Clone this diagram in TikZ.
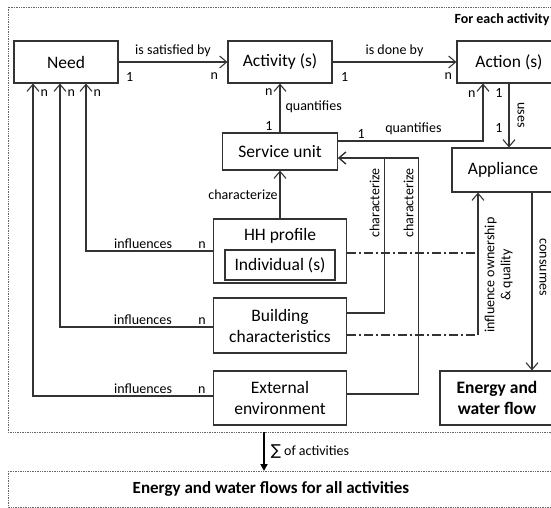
\documentclass[tikz,border=0pt]{standalone}
\usepackage{fontspec}
\setmainfont{Carlito}
\newfontfamily\dejavu{DejaVu Sans}
\usetikzlibrary{arrows.meta}
\begin{document}
\begin{tikzpicture}[x=1pt,y=-1pt]
\useasboundingbox (0,0) rectangle (551,508);
\clip (0,0) rectangle (551,508);
\tikzset{BoxStyle/.style ={draw=black!80, line width=1.1pt, rectangle, align=center, inner sep=0pt,
  minimum width=104pt, minimum height=42pt, font=\fontsize{17.5}{21}\selectfont}}
\tikzset{EdgeStyle/.style ={draw=black!80, line width=1.1pt, -{Straight Barb[length=7pt,width=12pt]}}}
\tikzset{LabelStyle/.style ={inner sep=2pt, font=\fontsize{14}{16}\selectfont}}
\tikzset{DashStyle/.style ={draw=black!80, line width=1.1pt, dash pattern=on 9pt off 3pt on 2pt off 3pt}}
\tikzset{FrameStyle/.style ={draw=black!60, line width=0.7pt, densely dotted}}
\draw[FrameStyle] (8,7) rectangle (580,432);
\draw[FrameStyle] (8,471) rectangle (580,507);
\node[anchor=base east, font=\fontsize{14}{16}\selectfont\bfseries] (ForEach) at (553,24) {For each activity};
\node[BoxStyle] (Need) at (66,62) {Need};
\node[BoxStyle] (Activity) at (280,62) {Activity (s)};
\node[BoxStyle] (Action) at (509,62) {Action (s)};
\node[BoxStyle, minimum width=115pt, minimum height=37pt] (Service) at (280,151.5) {Service unit};
\node[BoxStyle, minimum width=102pt, minimum height=44pt] (Appliance) at (503,170) {Appliance};
\node[BoxStyle, minimum width=133pt, minimum height=64pt] (HH) at (280,251) {};
\node[font=\fontsize{17.5}{21}\selectfont] (HHText) at (280,236) {HH profile};
\node[BoxStyle, minimum width=110pt, minimum height=30pt] (Individual) at (280,265) {Individual (s)};
\node[BoxStyle, minimum width=133pt, minimum height=55pt] (Building) at (280,325.5) {Building\\characteristics};
\node[BoxStyle, minimum width=133pt, minimum height=54pt] (External) at (280,398) {External\\environment};
\node[BoxStyle, minimum width=114pt, minimum height=54pt, font=\fontsize{17.5}{21}\selectfont\bfseries] (Energy) at (497,398) {Energy and\\water flow};
\node[font=\fontsize{17}{20}\selectfont\bfseries] (AllFlows) at (271,489) {Energy and water flows for all activities};
\coordinate (OwnBot) at (478,335);
\coordinate (SumTop) at (264,432);
\coordinate (SumBot) at (264,471);
\draw[EdgeStyle] (Need) -- node[LabelStyle, above=3pt]{is satisfied by} node[LabelStyle, pos=0, below right, xshift=5pt, yshift=-8pt]{1} node[LabelStyle, pos=1, below left, xshift=-7pt, yshift=-8pt]{n} (Activity);
\draw[EdgeStyle] (Activity) -- node[LabelStyle, above=3pt]{is done by} node[LabelStyle, pos=0, below right, xshift=6pt, yshift=-8pt]{1} node[LabelStyle, pos=1, below left, xshift=-2pt, yshift=-8pt]{n} (Action);
\draw[EdgeStyle] (Service) -- node[LabelStyle, pos=0.52, right=3pt]{quantifies} node[LabelStyle, pos=0.14, left=5pt]{1} node[LabelStyle, pos=0.82, left=5pt]{n} (Activity);
\draw[EdgeStyle] ([yshift=10.5pt]Service.east) -| node[LabelStyle, pos=0.08, above]{1} node[LabelStyle, pos=0.26, above=4pt]{quantifies} node[LabelStyle, pos=0.91, left=5pt]{n} ([xshift=-26pt]Action.south);
\draw[EdgeStyle] (Action.south) -- node[LabelStyle, pos=0.15, left=4pt]{1} node[LabelStyle, pos=0.69, left=4pt]{1} node[LabelStyle, pos=0.49, rotate=-90, anchor=south, inner ysep=8pt]{uses} (Action.south |- Appliance.north);
\draw[EdgeStyle] (HH) -- node[LabelStyle, left]{characterize} (Service);
\draw[EdgeStyle] ([yshift=12.5pt]Building.east) -| node[LabelStyle, pos=0.855, rotate=90, anchor=south, inner ysep=4pt]{characterize} ([xshift=46pt,yshift=-6.5pt]Service.east) -- ([yshift=-6.5pt]Service.east);
\draw[EdgeStyle] ([yshift=4pt]External.east) -| node[LabelStyle, pos=0.905, rotate=90, anchor=south, inner ysep=4pt]{characterize} ([xshift=80pt,yshift=-6.5pt]Service.east) -- ([yshift=-6.5pt]Service.east);
\draw[EdgeStyle] (HH.west) -| node[LabelStyle, pos=0.275, above]{influences} node[LabelStyle, pos=0.043, above]{n} node[LabelStyle, pos=0.97, right=5pt]{n} ([xshift=20pt]Need.south);
\draw[EdgeStyle] ([yshift=-1.5pt]Building.west) -| node[LabelStyle, pos=0.229, above]{influences} node[LabelStyle, pos=0.036, above]{n} node[LabelStyle, pos=0.98, right=5pt]{n} ([xshift=-6pt]Need.south);
\draw[EdgeStyle] ([yshift=2pt]External.west) -| node[LabelStyle, pos=0.194, above]{influences} node[LabelStyle, pos=0.031, above]{n} node[LabelStyle, pos=0.984, right=5pt]{n} ([xshift=-33pt]Need.south);
\draw[DashStyle] ([yshift=-2pt]HH.east) -- ([yshift=-2pt]HH.east -| OwnBot);
\draw[DashStyle] ([yshift=-9.5pt]Building.east) -- (OwnBot);
\draw[EdgeStyle] (OwnBot) -- node[LabelStyle, pos=0.42, rotate=90, anchor=north, align=center, inner ysep=6pt]{influence ownership\\\& quality} (OwnBot |- Appliance.south);
\draw[EdgeStyle] ([xshift=29pt]Appliance.south) -- node[LabelStyle, pos=0.42, rotate=-90, anchor=south, inner ysep=7pt]{consumes} ([xshift=29pt]Appliance.south |- Energy.north);
\draw[line width=1.8pt, -{Triangle[length=7pt,width=7pt]}] (SumTop) -- node[LabelStyle, right=4pt]{{\dejavu\fontsize{15}{16}\selectfont ∑} of activities} (SumBot);
\end{tikzpicture}
\end{document}
